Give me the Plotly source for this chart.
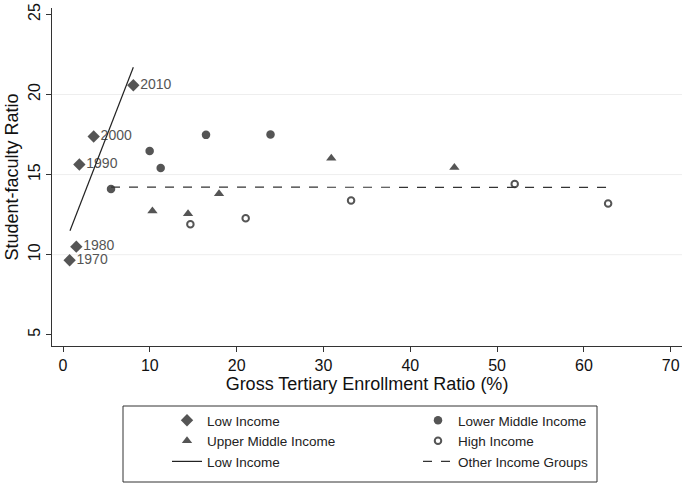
import plotly.graph_objects as go

# ---- data ----
low_x = [0.76, 1.53, 1.88, 3.53, 8.1]
low_y = [9.65, 10.5, 15.63, 17.38, 20.58]
low_lab = ["1970", "1980", "1990", "2000", "2010"]

lmid_x = [5.53, 9.98, 11.25, 16.47, 23.9]
lmid_y = [14.1, 16.48, 15.41, 17.48, 17.5]

umid_x = [10.3, 14.4, 17.97, 30.9, 45.08]
umid_y = [12.72, 12.55, 13.8, 16.02, 15.44]

high_x = [14.67, 21.04, 33.18, 52.03, 62.79]
high_y = [11.9, 12.27, 13.38, 14.41, 13.2]

# fitted lines (end points)
fit_low_x = [0.8, 8.1]
fit_low_y = [11.5, 21.7]
fit_oth_x = [5.53, 62.8]
fit_oth_y = [14.22, 14.2]

grid_y = [10, 15, 20]
x_ticks = [0, 10, 20, 30, 40, 50, 60, 70]
y_ticks = [5, 10, 15, 20, 25]

MK = "#555555"
FONT = "Liberation Sans, Arial, Helvetica, sans-serif"

fig = go.Figure()
fig.add_trace(go.Scatter(x=low_x, y=low_y, mode="markers+text", name="Low Income",
                         text=low_lab, textposition="middle right",
                         textfont=dict(size=14, color="#555555", family=FONT),
                         marker=dict(symbol="diamond", size=9.5, color=MK)))
fig.add_trace(go.Scatter(x=lmid_x, y=lmid_y, mode="markers", name="Lower Middle Income",
                         marker=dict(symbol="circle", size=8.5, color=MK)))
fig.add_trace(go.Scatter(x=umid_x, y=umid_y, mode="markers", name="Upper Middle Income",
                         marker=dict(symbol="triangle-up", size=9, color=MK)))
fig.add_trace(go.Scatter(x=high_x, y=high_y, mode="markers", name="High Income",
                         marker=dict(symbol="circle-open", size=6.5, color=MK,
                                     line=dict(width=2, color=MK))))
fig.add_trace(go.Scatter(x=fit_low_x, y=fit_low_y, mode="lines", name="Low Income",
                         line=dict(color="#222222", width=1.2)))
fig.add_trace(go.Scatter(x=fit_oth_x, y=fit_oth_y, mode="lines", name="Other Income Groups",
                         line=dict(color="#333333", width=1.2, dash="dash")))

shapes = [dict(type="line", xref="paper", x0=0, x1=1, yref="y", y0=g, y1=g,
               line=dict(color="#eeeeee", width=1), layer="below") for g in grid_y]
# legend frame
shapes.append(dict(type="rect", xref="paper", yref="paper",
                   x0=(123 - 52) / 630, x1=(597 - 52) / 630,
                   y0=(346 - 482) / 338, y1=(346 - 406) / 338,
                   line=dict(color="#333333", width=1), fillcolor="rgba(0,0,0,0)"))

fig.update_layout(
    width=685, height=486,
    margin=dict(l=52, r=3, t=8, b=140, autoexpand=False),
    plot_bgcolor="white", paper_bgcolor="white",
    font=dict(family=FONT, color="#111111"),
    shapes=shapes,
    showlegend=True,
    legend=dict(orientation="h", x=(167 - 52) / 630, xanchor="left",
                y=(346 - 405) / 338, yanchor="top",
                entrywidth=206, entrywidthmode="pixels",
                font=dict(size=13.5, family=FONT, color="#222222"),
                bgcolor="rgba(0,0,0,0)", borderwidth=0, tracegroupgap=0,
                itemsizing="trace"),
    xaxis=dict(range=[-1.27, 71.3], tickvals=x_ticks, showgrid=False, zeroline=False,
               showline=True, linecolor="#333333", linewidth=1, automargin=False,
               ticks="outside", ticklen=5, tickcolor="#333333",
               tickfont=dict(size=16), title=dict(text="Gross Tertiary Enrollment Ratio (%)",
                                                  font=dict(size=18), standoff=4)),
    yaxis=dict(range=[4.3, 25.4], tickvals=y_ticks, showgrid=False, zeroline=False,
               showline=True, linecolor="#333333", linewidth=1, automargin=False,
               ticks="outside", ticklen=5, tickcolor="#333333", tickangle=-90,
               tickfont=dict(size=16), title=dict(text="Student-faculty Ratio",
                                                  font=dict(size=18), standoff=2)),
)
fig.write_html("out.html", config={"displayModeBar": False},
               post_script="document.body.style.margin='0';document.body.style.overflow='hidden';")
